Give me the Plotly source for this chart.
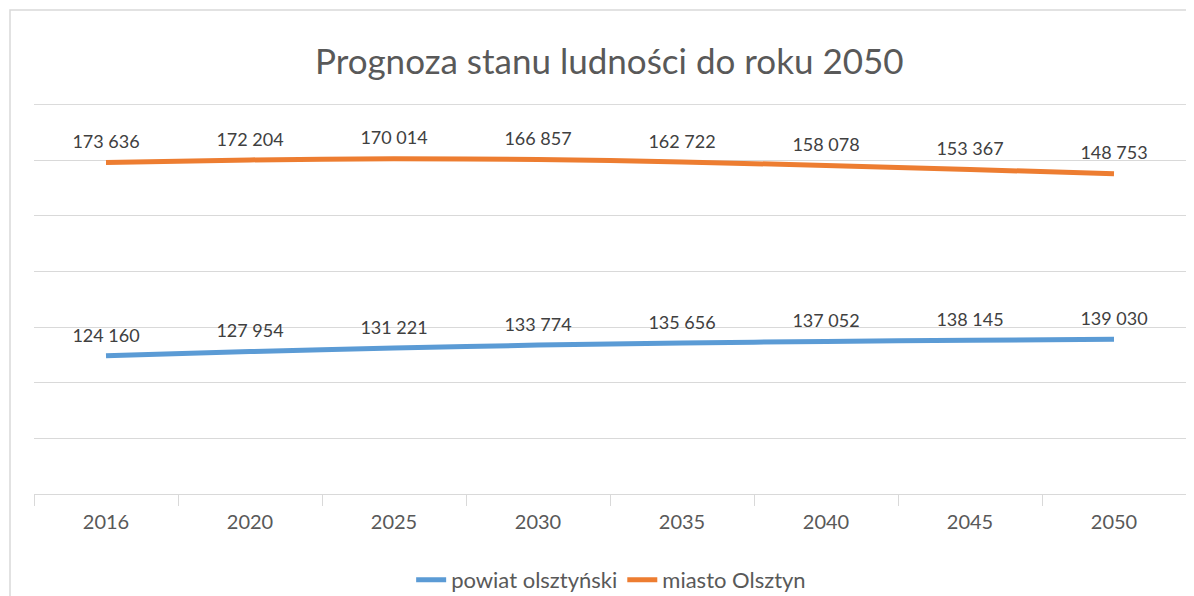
import plotly.graph_objects as go

# dane z wykresu (prognoza)
lata = ["2016", "2020", "2025", "2030", "2035", "2040", "2045", "2050"]
powiat = [124160, 127954, 131221, 133774, 135656, 137052, 138145, 139030]
miasto = [173636, 172204, 170014, 166857, 162722, 158078, 153367, 148753]

C_BLUE = "#5B9BD5"
C_ORANGE = "#ED7D31"
FONT = "Lato"
Y_MAX = 350000


def fmt(v):
    return f"{v:,}".replace(",", " ")


fig = go.Figure()

# wykres liniowy skumulowany (jak w Excelu)
for name, vals, color in [("powiat olsztyński", powiat, C_BLUE),
                          ("miasto Olsztyn", miasto, C_ORANGE)]:
    fig.add_trace(go.Scatter(
        x=lata, y=vals, name=name,
        stackgroup="one", fill="none",
        mode="lines+markers+text",
        line=dict(color=color, width=5, shape="spline", smoothing=0.6),
        marker=dict(size=14, color="rgba(0,0,0,0)"),
        text=[fmt(v) for v in vals],
        textposition="top center",
        textfont=dict(family=FONT, size=18, color="#404040"),
        hoverinfo="x+text",
    ))

# strona ma margines 8px -> figura mniejsza o 8px
W, H = 1186, 588
fig.update_layout(
    width=W, height=H,
    paper_bgcolor="white", plot_bgcolor="white",
    font=dict(family=FONT, color="#595959"),
    title=dict(text="Prognoza stanu ludności do roku 2050",
               font=dict(size=35, color="#595959", family=FONT),
               x=0.507, xanchor="center", y=1 - 54 / H, yanchor="middle"),
    margin=dict(l=26, r=8, t=96, b=102, autoexpand=False),
    showlegend=True,
    legend=dict(orientation="h", x=0.501, xanchor="center", y=-0.2205, yanchor="middle",
                font=dict(size=22, color="#595959", family=FONT), traceorder="normal"),
)

fig.update_xaxes(
    type="category", showgrid=False, showline=True, linecolor="#D9D9D9", linewidth=1,
    ticks="outside", tickson="boundaries", ticklen=11, tickcolor="#D9D9D9",
    tickfont=dict(size=20, color="#595959", family=FONT), ticklabelstandoff=10,
    range=[-0.5, 7.5],
)
fig.update_yaxes(
    range=[0, Y_MAX + 400], tick0=0, dtick=50000, showgrid=True, gridcolor="#D9D9D9", gridwidth=1,
    showticklabels=False, zeroline=False, showline=False,
)

# górna linia siatki (plotly jej nie rysuje na krawędzi)
fig.add_shape(type="line", xref="paper", yref="y", x0=0, x1=1, y0=Y_MAX, y1=Y_MAX,
              line=dict(color="#D9D9D9", width=1), layer="below")

# ramka obszaru wykresu
fig.add_shape(type="rect", xref="paper", yref="paper",
              x0=-24 / 1152, x1=1156 / 1152, y0=-0.3, y1=484 / 390,
              line=dict(color="#D9D9D9", width=1.5), layer="below")

fig.write_html("out.html")
